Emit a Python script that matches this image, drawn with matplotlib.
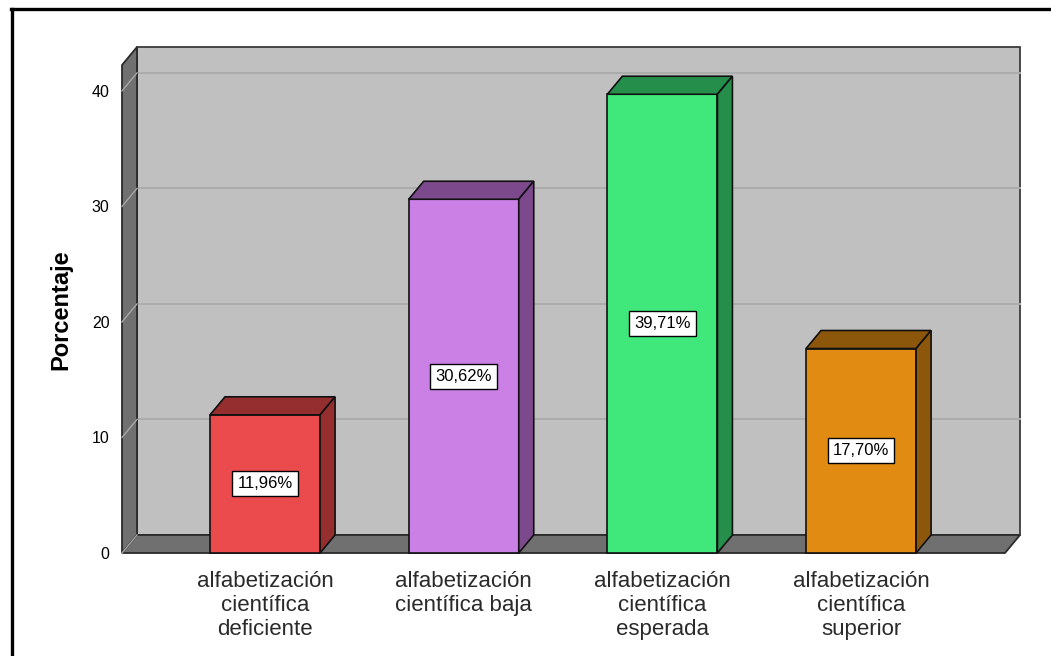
import matplotlib
matplotlib.use('Agg')
import matplotlib.pyplot as plt
from matplotlib.patches import Polygon, Rectangle
from matplotlib.lines import Line2D

# datos del gráfico
categorias = ['alfabetización\ncientífica\ndeficiente',
              'alfabetización\ncientífica baja',
              'alfabetización\ncientífica\nesperada',
              'alfabetización\ncientífica\nsuperior']
porcentajes = [11.96, 30.62, 39.71, 17.70]
etiquetas = ['11,96%', '30,62%', '39,71%', '17,70%']
yticks = [0, 10, 20, 30, 40]
colores = ['#ec4b4e', '#cb80e6', '#40e87c', '#e18b13']
oscuros = ['#952e2f', '#7c4a8c', '#258e4b', '#8c560b']

plt.rcParams['font.family'] = ['Liberation Sans', 'DejaVu Sans']

fig = plt.figure(figsize=(10.51, 6.56), dpi=100)
ax = fig.add_axes([122 / 1051, 103 / 656, 898 / 1051, 506 / 656])
xmin, xmax, ymax = -0.72, 3.80, 43.8
dx, dy = 0.0755, 1.56   # desplazamiento de profundidad (efecto 3D)
ancho = 0.554
ax.set_xlim(xmin, xmax)
ax.set_ylim(0, ymax)
for s in ax.spines.values():
    s.set_visible(False)

# paredes y suelo
ax.add_patch(Rectangle((xmin + dx, dy), xmax - xmin - dx, ymax - dy, fc='#c0c0c0',
                       ec='#3c3c3c', lw=1.3, clip_on=False, zorder=0))
for t in yticks[1:]:
    ax.plot([xmin + dx, xmax], [t + dy, t + dy], color='#acacac', lw=1.4, zorder=1, clip_on=False)
ax.add_patch(Polygon([(xmin, 0), (xmin + dx, dy), (xmin + dx, ymax), (xmin, ymax - dy)],
                     fc='#707070', ec='#2a2a2a', lw=1.3, clip_on=False, zorder=2))
for t in yticks:
    ax.plot([xmin, xmin + dx], [t, t + dy], color='#a8a8a8', lw=1, zorder=3, clip_on=False)
ax.add_patch(Polygon([(xmin, 0), (xmax - dx, 0), (xmax, dy), (xmin + dx, dy)],
                     fc='#707070', ec='#2a2a2a', lw=1.3, clip_on=False, zorder=2))

# barras 3D
for i, (v, c, o, et) in enumerate(zip(porcentajes, colores, oscuros, etiquetas)):
    x0 = i - ancho / 2
    ax.add_patch(Rectangle((x0, 0), ancho, v, fc=c, ec='#111111', lw=1.2, zorder=5, clip_on=False))
    ax.add_patch(Polygon([(x0, v), (x0 + ancho, v), (x0 + ancho + dx, v + dy), (x0 + dx, v + dy)],
                         fc=o, ec='#111111', lw=1.2, zorder=5, clip_on=False))
    ax.add_patch(Polygon([(x0 + ancho, 0), (x0 + ancho + dx, dy), (x0 + ancho + dx, v + dy), (x0 + ancho, v)],
                         fc=o, ec='#111111', lw=1.2, zorder=5, clip_on=False))
    ax.text(i, v / 2, et, ha='center', va='center', fontsize=12, zorder=6,
            bbox=dict(boxstyle='square,pad=0.3', fc='white', ec='black', lw=1))

ax.set_yticks(yticks)
ax.tick_params(axis='y', length=0, pad=9, labelsize=11.5)
ax.set_xticks(range(len(categorias)))
ax.set_xticklabels(categorias, fontsize=16, color='#2a2a2a')
ax.tick_params(axis='x', length=0, pad=13)

fig.text(61 / 1051, 1 - 310 / 656, 'Porcentaje', rotation=90, ha='center', va='center',
         fontsize=17, fontweight='bold')

# marco exterior
fig.add_artist(Line2D([11 / 1051, 1], [1 - 9 / 656, 1 - 9 / 656], color='black', lw=2.4))
fig.add_artist(Line2D([11.5 / 1051, 11.5 / 1051], [0, 1 - 9 / 656], color='black', lw=2.4))

fig.savefig('out.png', dpi=100)
